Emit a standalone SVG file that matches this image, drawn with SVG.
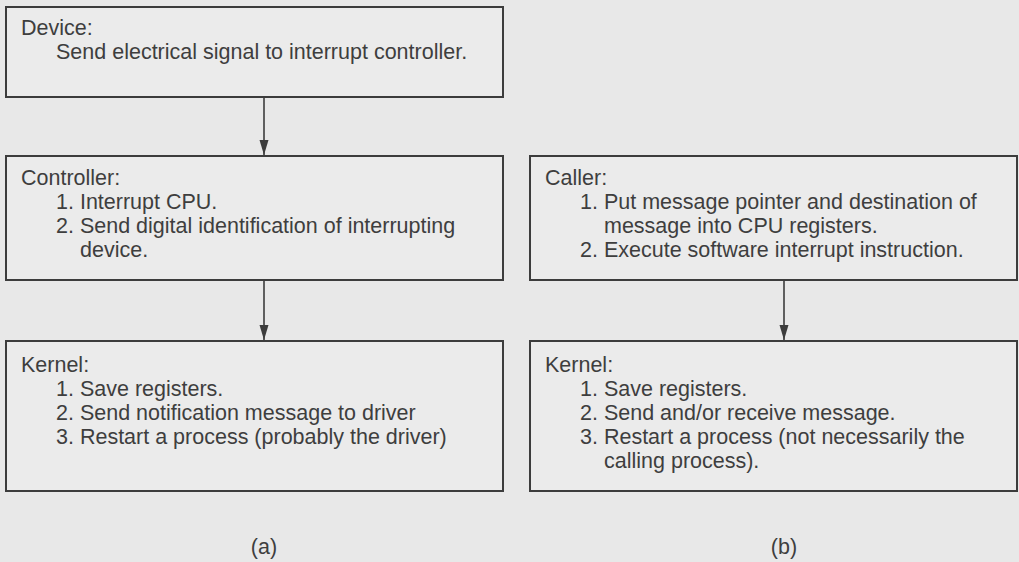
<svg xmlns="http://www.w3.org/2000/svg" width="1019" height="562" viewBox="0 0 1019 562">
<defs>
<marker id="arr" markerWidth="16" markerHeight="10" refX="15" refY="5" orient="auto" markerUnits="userSpaceOnUse" viewBox="0 0 16 10">
<path d="M0,0.5 L15,5 L0,9.5 Z" fill="#3c3c3c"/>
</marker>
<style>
.box{fill:#ebebeb;stroke:#3c3c3c;stroke-width:2}
.t{font-family:"Liberation Sans",Arial,Helvetica,sans-serif;font-size:21.5px;fill:#3e3e3e}
.c{stroke:#3c3c3c;stroke-width:1.6;fill:none}
</style>
</defs>
<rect width="1019" height="562" fill="#e8e8e8"/>
<g id="device">
<rect class="box" x="6" y="7" width="497" height="90"/>
<text class="t" x="21" y="35">Device:</text>
<text class="t" x="56" y="59">Send electrical signal to interrupt controller.</text>
</g>
<g id="controller">
<rect class="box" x="6" y="156" width="497" height="124"/>
<text class="t" x="21" y="185">Controller:</text>
<text class="t" x="56" y="209">1. Interrupt CPU.</text>
<text class="t" x="56" y="233">2. Send digital identification of interrupting</text>
<text class="t" x="80" y="257">device.</text>
</g>
<g id="kernel-a">
<rect class="box" x="6" y="341" width="497" height="150"/>
<text class="t" x="21" y="372">Kernel:</text>
<text class="t" x="56" y="396">1. Save registers.</text>
<text class="t" x="56" y="420">2. Send notification message to driver</text>
<text class="t" x="56" y="444">3. Restart a process (probably the driver)</text>
</g>
<g id="caller">
<rect class="box" x="530" y="156" width="487" height="124"/>
<text class="t" x="545" y="185">Caller:</text>
<text class="t" x="580" y="209">1. Put message pointer and destination of</text>
<text class="t" x="604" y="233">message into CPU registers.</text>
<text class="t" x="580" y="257">2. Execute software interrupt instruction.</text>
</g>
<g id="kernel-b">
<rect class="box" x="530" y="341" width="487" height="150"/>
<text class="t" x="545" y="372">Kernel:</text>
<text class="t" x="580" y="396">1. Save registers.</text>
<text class="t" x="580" y="420">2. Send and/or receive message.</text>
<text class="t" x="580" y="444">3. Restart a process (not necessarily the</text>
<text class="t" x="604" y="468">calling process).</text>
</g>
<g id="connectors">
<line class="c" x1="264" y1="97" x2="264" y2="155" marker-end="url(#arr)"/>
<line class="c" x1="264" y1="280" x2="264" y2="340" marker-end="url(#arr)"/>
<line class="c" x1="784" y1="280" x2="784" y2="340" marker-end="url(#arr)"/>
</g>
<g id="labels">
<text class="t" x="264" y="554" text-anchor="middle">(a)</text>
<text class="t" x="784" y="554" text-anchor="middle">(b)</text>
</g>
</svg>
